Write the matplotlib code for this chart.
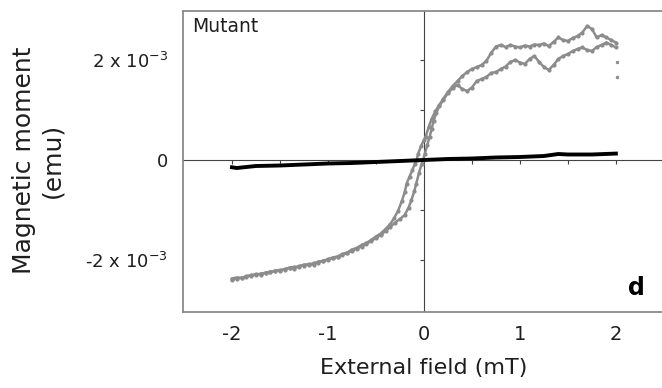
import matplotlib
matplotlib.use("Agg")
import matplotlib.pyplot as plt

# ---- data (field in mT, moment in units of 1e-3 emu) ----
desc_x = [-2.00, -1.95, -1.90, -1.85, -1.80, -1.75, -1.70, -1.65, -1.60, -1.55,
          -1.50, -1.45, -1.40, -1.35, -1.30, -1.25, -1.20, -1.15, -1.10, -1.05,
          -1.00, -0.95, -0.90, -0.85, -0.80, -0.75, -0.70, -0.65, -0.60, -0.55,
          -0.50, -0.45, -0.40, -0.35, -0.31, -0.27, -0.23, -0.20, -0.18, -0.15,
          -0.12, -0.094, -0.076, -0.06, -0.03, 0.00, 0.018, 0.05, 0.08, 0.12,
          0.16, 0.20, 0.25, 0.30, 0.35, 0.40, 0.45, 0.50, 0.55, 0.60,
          0.65, 0.70, 0.75, 0.80, 0.85, 0.90, 0.95, 1.00, 1.05, 1.10,
          1.15, 1.20, 1.25, 1.30, 1.35, 1.40, 1.45, 1.50, 1.55, 1.60,
          1.65, 1.70, 1.75, 1.80, 1.85, 1.90, 1.95, 2.00]
desc_y = [-2.37, -2.35, -2.36, -2.32, -2.31, -2.28, -2.29, -2.25, -2.24, -2.21,
          -2.22, -2.18, -2.16, -2.17, -2.12, -2.11, -2.08, -2.09, -2.03, -2.02,
          -1.98, -1.95, -1.93, -1.88, -1.85, -1.79, -1.76, -1.70, -1.66, -1.60,
          -1.53, -1.47, -1.38, -1.28, -1.16, -1.02, -0.82, -0.64, -0.47, -0.33,
          -0.20, -0.07, 0.00, 0.13, 0.28, 0.40, 0.47, 0.66, 0.82, 0.98,
          1.10, 1.22, 1.36, 1.48, 1.58, 1.68, 1.76, 1.82, 1.86, 1.90,
          1.98, 2.14, 2.27, 2.30, 2.26, 2.30, 2.27, 2.25, 2.29, 2.27,
          2.31, 2.30, 2.33, 2.28, 2.36, 2.45, 2.40, 2.38, 2.44, 2.48,
          2.55, 2.68, 2.62, 2.45, 2.50, 2.45, 2.40, 2.35]

asc_x = [-2.00, -1.95, -1.90, -1.85, -1.80, -1.75, -1.70, -1.65, -1.60, -1.55,
         -1.50, -1.45, -1.40, -1.35, -1.30, -1.25, -1.20, -1.15, -1.10, -1.05,
         -1.00, -0.95, -0.90, -0.85, -0.80, -0.75, -0.70, -0.65, -0.60, -0.55,
         -0.50, -0.45, -0.40, -0.35, -0.30, -0.25, -0.20, -0.16, -0.13, -0.10,
         -0.08, -0.05, -0.024, -0.01, 0.01, 0.035, 0.06, 0.08, 0.10, 0.13,
         0.16, 0.20, 0.25, 0.30, 0.35, 0.40, 0.45, 0.50, 0.55, 0.60,
         0.65, 0.70, 0.75, 0.80, 0.85, 0.90, 0.95, 1.00, 1.05, 1.10,
         1.15, 1.20, 1.25, 1.30, 1.35, 1.40, 1.45, 1.50, 1.55, 1.60,
         1.65, 1.70, 1.75, 1.80, 1.85, 1.90, 1.95, 2.00]
asc_y = [-2.40, -2.37, -2.35, -2.34, -2.30, -2.30, -2.27, -2.26, -2.23, -2.22,
         -2.20, -2.19, -2.15, -2.14, -2.13, -2.09, -2.10, -2.06, -2.05, -2.01,
         -2.00, -1.96, -1.94, -1.90, -1.86, -1.82, -1.77, -1.73, -1.68, -1.62,
         -1.56, -1.50, -1.42, -1.34, -1.25, -1.18, -1.10, -0.95, -0.80, -0.62,
         -0.47, -0.25, -0.07, 0.00, 0.13, 0.30, 0.47, 0.62, 0.78, 0.95,
         1.08, 1.20, 1.34, 1.44, 1.50, 1.42, 1.38, 1.45, 1.58, 1.62,
         1.66, 1.74, 1.76, 1.82, 1.87, 1.96, 2.00, 1.95, 1.92, 2.02,
         2.08, 1.96, 1.86, 1.80, 1.90, 2.02, 2.08, 2.12, 2.18, 2.22,
         2.25, 2.20, 2.18, 2.26, 2.30, 2.35, 2.30, 2.25]

stray_x = [2.01, 2.01]
stray_y = [1.97, 1.67]

wt_x = [-2.02, -1.95, -1.75, -1.50, -1.25, -1.00, -0.75, -0.50, -0.25, 0.00,
        0.25, 0.50, 0.75, 1.00, 1.25, 1.40, 1.50, 1.60, 1.75, 2.02]
wt_y = [-0.14, -0.16, -0.12, -0.11, -0.09, -0.07, -0.06, -0.04, -0.02, 0.00,
        0.02, 0.03, 0.05, 0.06, 0.08, 0.12, 0.11, 0.11, 0.11, 0.13]

x_ticks = [-2, -1, 0, 1, 2]
x_ticklabels = ["-2", "-1", "0", "1", "2"]
y_ticks = [2e-3, 0, -2e-3]
y_ticklabels = [r"2 x 10$^{-3}$", "0", r"-2 x 10$^{-3}$"]
x_minor = [-2.0, -1.5, -1.0, -0.5, 0.5, 1.0, 1.5, 2.0]
y_minor = [-2e-3, -1e-3, 1e-3, 2e-3]

scale = 1e-3
gray = "#8c8c8c"
txt = "#1e1e1e"

fig = plt.figure(figsize=(6.62, 3.88), dpi=100)
ax = fig.add_axes([183 / 662, 1 - 312 / 388, 479 / 662, 301 / 388])
ax.set_xlim(-2.51, 2.48)
ax.set_ylim(-3.04e-3, 2.98e-3)

for s in ["left", "top", "bottom"]:
    ax.spines[s].set_color("#8a8a8a")
    ax.spines[s].set_linewidth(1.3)
ax.spines["right"].set_visible(False)

ax.axhline(0, color="#444444", lw=0.8, zorder=1)
ax.axvline(0, color="#444444", lw=0.8, zorder=1)
ax.plot(x_minor, [0] * len(x_minor), ls="none", marker=3, ms=3, mew=0.8,
        color="#444444", zorder=1)
ax.plot([0] * len(y_minor), y_minor, ls="none", marker=0, ms=3, mew=0.8,
        color="#444444", zorder=1)

for bx, by in [(desc_x, desc_y), (asc_x, asc_y)]:
    ax.plot(bx, [v * scale for v in by], color=gray, lw=1.8, marker="o",
            ms=3.0, mew=0, zorder=2)
ax.plot(stray_x, [v * scale for v in stray_y], ls="none", marker="o", ms=2.5,
        mew=0, color=gray, zorder=2)

ax.plot(wt_x, [v * scale for v in wt_y], color="black", lw=2.8, zorder=3,
        solid_capstyle="butt")

ax.set_xticks(x_ticks)
ax.set_xticklabels(x_ticklabels)
ax.set_yticks(y_ticks)
ax.set_yticklabels(y_ticklabels)
ax.tick_params(axis="x", length=0, pad=9, labelsize=14, labelcolor=txt)
ax.tick_params(axis="y", length=0, pad=11, labelsize=13, labelcolor=txt)

fig.text(38 / 662, 1 - 160 / 388, "Magnetic moment\n(emu)", rotation=90,
         ha="center", va="center", multialignment="center", fontsize=18,
         color=txt, linespacing=1.2)
fig.text(424 / 662, 1 - 368 / 388, "External field (mT)", ha="center",
         va="center", fontsize=16, color=txt)
fig.text(192 / 662, 1 - 32 / 388, "Mutant", ha="left", va="baseline",
         fontsize=13.5, color=txt)
fig.text(645 / 662, 1 - 295 / 388, "d", ha="right", va="baseline",
         fontsize=17, fontweight="bold", color="black")

fig.savefig("out.png", dpi=100)
